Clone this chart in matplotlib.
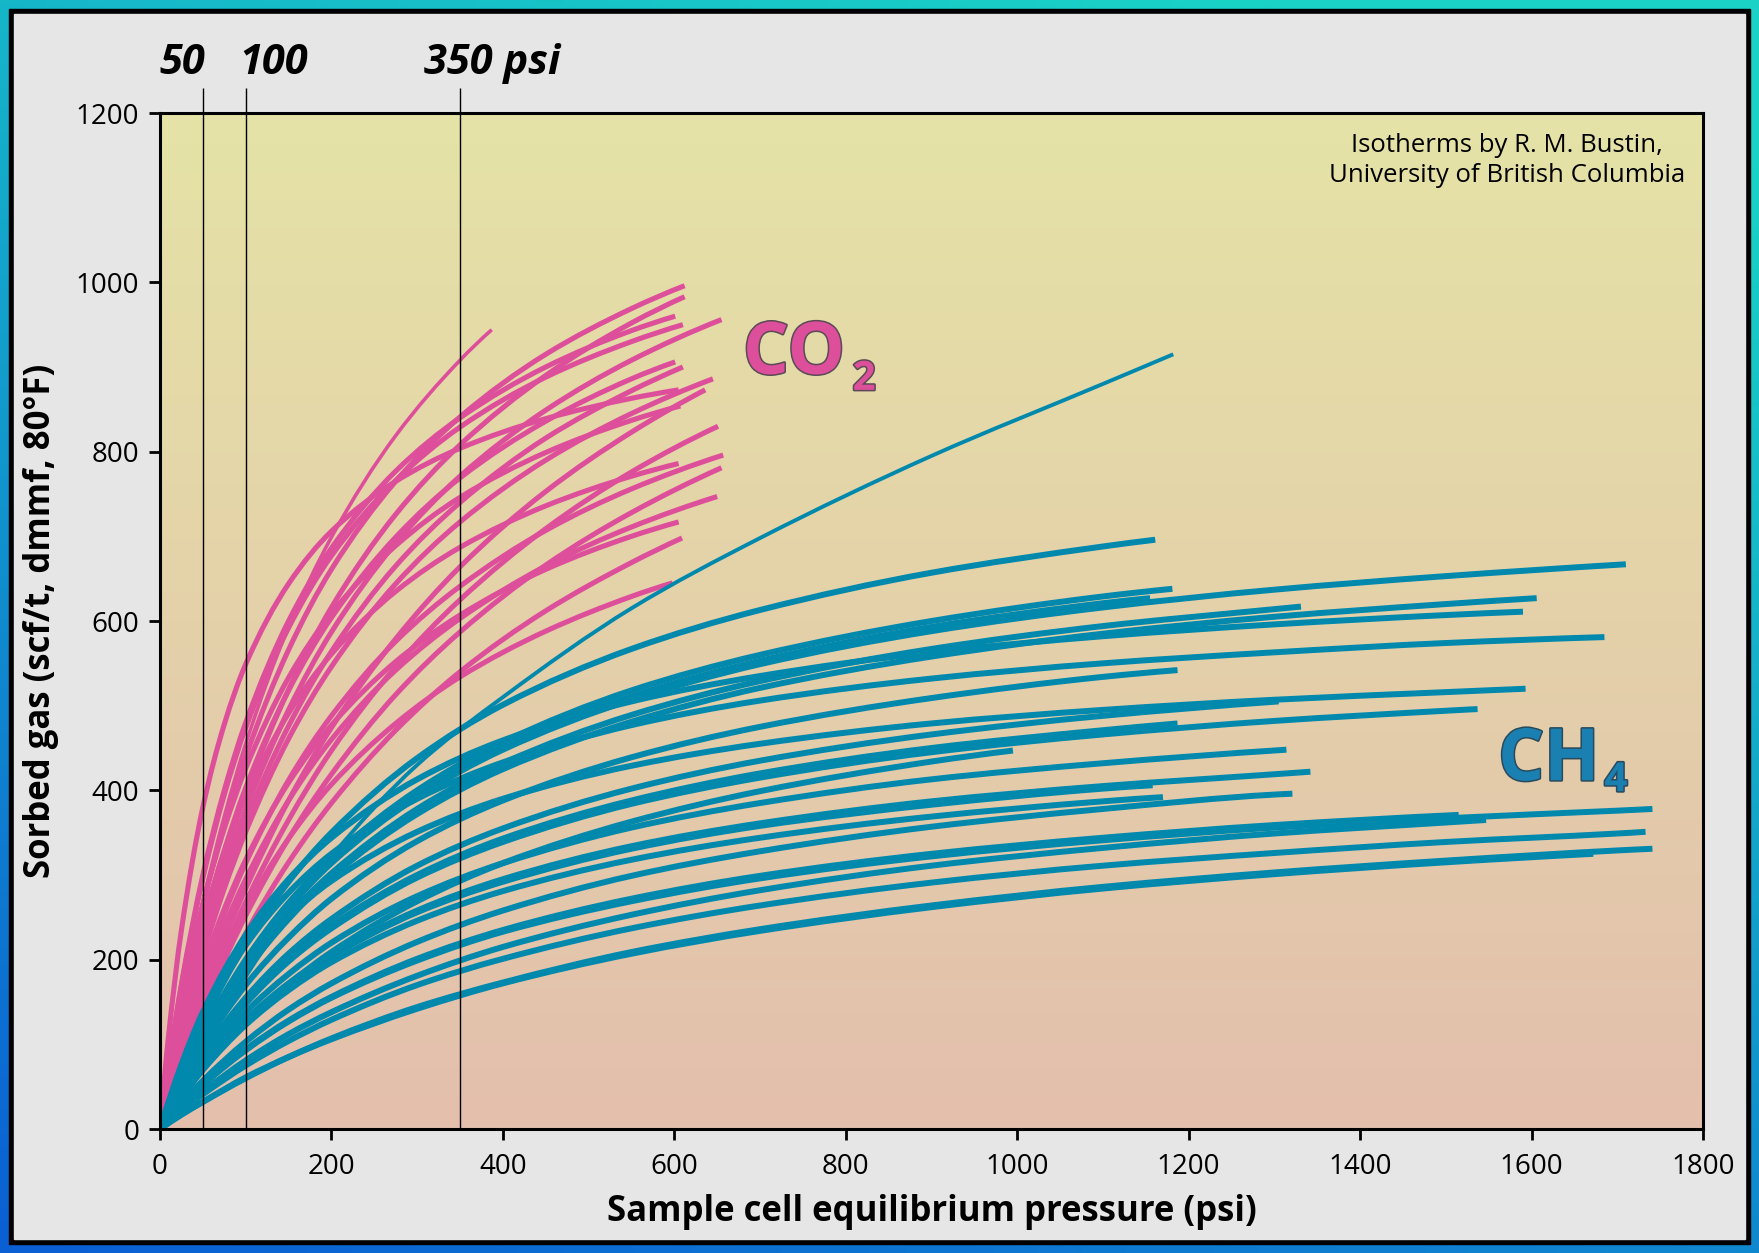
import matplotlib
matplotlib.use("Agg")
import matplotlib.pyplot as plt
import matplotlib.patheffects as pe
from matplotlib.patches import Rectangle, PathPatch
from matplotlib.path import Path
from matplotlib import font_manager
import numpy as np

# pressure grids (psi) shared by the isotherms, each curve stops at its own end pressure
co2_p = [0, 10, 25, 50, 75, 100, 150, 200, 275, 350, 450, 550]
ch4_p = [0, 25, 50, 100, 150, 200, 300, 400, 550, 700, 900, 1100, 1300, 1500, 1700]

# CO2 isotherms (scf/t)
co2_end = [612, 612, 601, 655, 610, 601, 610, 645, 636, 605, 607, 651, 657, 605, 655, 650, 605, 609, 598]
co2_v = [
    [0, 63, 147, 264, 360, 440, 566, 661, 765, 841, 915, 969, 996],
    [0, 53, 126, 231, 320, 396, 519, 616, 726, 808, 890, 952, 983],
    [0, 75, 171, 300, 400, 480, 600, 686, 777, 840, 900, 943, 960],
    [0, 51, 120, 220, 305, 377, 495, 587, 692, 771, 849, 908, 956],
    [0, 74, 169, 296, 395, 474, 592, 677, 766, 829, 888, 930, 950],
    [0, 58, 134, 242, 329, 403, 518, 604, 699, 769, 836, 886, 906],
    [0, 49, 115, 212, 293, 363, 476, 564, 665, 740, 816, 872, 900],
    [0, 47, 112, 205, 284, 351, 461, 546, 644, 717, 790, 845, 886],
    [0, 35, 84, 158, 225, 284, 388, 474, 579, 664, 753, 823, 873],
    [0, 110, 235, 380, 478, 549, 644, 706, 765, 804, 839, 863, 873],
    [0, 67, 152, 266, 355, 426, 533, 609, 689, 746, 799, 837, 854],
    [0, 33, 79, 149, 212, 268, 365, 447, 546, 625, 709, 776, 830],
    [0, 42, 100, 183, 254, 314, 412, 488, 576, 641, 707, 756, 796],
    [0, 61, 140, 245, 327, 392, 491, 561, 635, 687, 736, 771, 786],
    [0, 31, 74, 140, 199, 252, 343, 419, 513, 587, 666, 728, 781],
    [0, 40, 94, 172, 239, 295, 388, 460, 542, 603, 665, 711, 747],
    [0, 45, 106, 191, 260, 318, 409, 477, 552, 607, 661, 700, 717],
    [0, 28, 68, 128, 183, 231, 315, 385, 471, 540, 612, 669, 698],
    [0, 35, 83, 153, 211, 261, 343, 407, 479, 534, 588, 629, 645],
]
co2_thin_end = 387
co2_thin_v = [0, 62, 147, 268, 369, 455, 593, 699, 819, 908, 944]

# CH4 isotherms (scf/t)
ch4_end = [1161, 1181, 1155, 1710, 1606, 1590, 1331, 1685, 1187, 1187, 1593, 1305, 1537,
           995, 1314, 1342, 1158, 1170, 1321, 1741, 1515, 1547, 1733, 1741, 1672]
ch4_v = [
    [0, 67, 125, 219, 292, 350, 438, 501, 567, 613, 657, 688, 696],
    [0, 62, 114, 200, 267, 320, 400, 457, 518, 560, 600, 629, 638],
    [0, 61, 113, 198, 263, 316, 395, 451, 511, 553, 593, 621, 627],
    [0, 60, 112, 196, 261, 314, 392, 448, 507, 549, 588, 616, 637, 653, 666, 667],
    [0, 57, 106, 186, 248, 298, 372, 425, 481, 521, 558, 585, 605, 620, 627],
    [0, 76, 138, 229, 295, 344, 413, 459, 505, 535, 563, 582, 596, 607, 611],
    [0, 58, 108, 189, 252, 302, 378, 432, 489, 529, 567, 594, 614, 617],
    [0, 72, 130, 217, 279, 325, 390, 433, 477, 506, 532, 550, 563, 574, 581],
    [0, 52, 97, 170, 226, 272, 340, 388, 439, 475, 509, 534, 542],
    [0, 46, 86, 150, 200, 240, 300, 343, 388, 420, 450, 471, 479],
    [0, 65, 117, 195, 251, 293, 351, 390, 429, 455, 479, 495, 507, 516, 520],
    [0, 48, 89, 155, 207, 248, 311, 355, 402, 435, 466, 488, 504, 505],
    [0, 46, 85, 148, 198, 237, 297, 339, 384, 415, 445, 466, 482, 494, 496],
    [0, 37, 70, 125, 171, 209, 269, 314, 363, 399, 434, 447],
    [0, 42, 79, 138, 183, 220, 275, 314, 356, 385, 413, 432, 447, 448],
    [0, 40, 74, 129, 172, 206, 258, 295, 334, 361, 387, 405, 419, 422],
    [0, 39, 73, 128, 170, 204, 256, 292, 331, 358, 383, 402, 406],
    [0, 38, 70, 123, 164, 197, 246, 281, 318, 344, 369, 387, 392],
    [0, 30, 57, 103, 141, 172, 221, 258, 299, 328, 357, 378, 395, 396],
    [0, 27, 52, 93, 127, 155, 199, 233, 269, 296, 322, 341, 356, 367, 376, 378],
    [0, 28, 52, 94, 128, 156, 201, 235, 272, 299, 325, 344, 359, 370, 371],
    [0, 23, 44, 81, 112, 138, 181, 215, 253, 282, 311, 332, 349, 362, 365],
    [0, 22, 41, 75, 104, 129, 170, 201, 237, 264, 291, 311, 326, 339, 349, 351],
    [0, 17, 32, 61, 85, 107, 144, 173, 209, 236, 264, 286, 303, 317, 329, 331],
    [0, 17, 32, 60, 85, 106, 142, 172, 207, 234, 262, 284, 301, 315, 325],
]
ch4_thin_end = 1182
ch4_thin_v = [0, 48, 95, 180, 255, 322, 430, 510, 615, 698, 795, 880, 915]

marker_p = [50, 100, 350]
marker_lbl = ["50", "100", "350 psi"]
marker_lbl_x = [26, 133, 308]

x_ticks = list(range(0, 1801, 200))
y_ticks = list(range(0, 1201, 200))

CO2_COL = "#dd4f9b"
CH4_COL = "#0088ad"

names = {f.name for f in font_manager.fontManager.ttflist}
REG = "Open Sans" if "Open Sans" in names else "DejaVu Sans"


def curve_pts(grid, vals, pend):
    pts = list(zip(grid[:len(vals) - 1], vals[:-1]))
    # a grid point sitting right next to the end only adds rounding noise
    pts = [q for q in pts if pend - q[0] >= 20]
    return [q[0] for q in pts] + [pend], [q[1] for q in pts] + [vals[-1]]


def smooth_path(x, y):
    # cubic Bezier pieces through the read points (drawing only)
    x = np.asarray(x, float)
    y = np.asarray(y, float)
    h = np.diff(x)
    d = np.diff(y) / h
    n = len(x)
    m = np.empty(n)
    for i in range(1, n - 1):
        if d[i - 1] * d[i] <= 0:
            m[i] = 0.0
        else:
            w1 = 2 * h[i] + h[i - 1]
            w2 = h[i] + 2 * h[i - 1]
            m[i] = (w1 + w2) / (w1 / d[i - 1] + w2 / d[i])
    m[0] = max(d[0], 2 * d[0] - m[1]) if n > 2 else d[0]
    m[-1] = max(0.0, 2 * d[-1] - m[-2]) if n > 2 else d[-1]
    verts = [(x[0], y[0])]
    codes = [Path.MOVETO]
    for i in range(n - 1):
        verts += [(x[i] + h[i] / 3, y[i] + m[i] * h[i] / 3),
                  (x[i + 1] - h[i] / 3, y[i + 1] - m[i + 1] * h[i] / 3),
                  (x[i + 1], y[i + 1])]
        codes += [Path.CURVE4] * 3
    return Path(verts, codes)


def draw_curve(ax, grid, vals, pend, color, lw, z):
    p, v = curve_pts(grid, vals, pend)
    ax.add_patch(PathPatch(smooth_path(p, v), facecolor="none", edgecolor=color, lw=lw,
                           capstyle="butt", joinstyle="round", zorder=z))


W, H = 1759, 1253
fig = plt.figure(figsize=(W / 100, H / 100), dpi=100)

# frame: gradient border, black line, grey inside
bg = fig.add_axes([0, 0, 1, 1], zorder=-10)
yy, xx = np.mgrid[0:1:200j, 0:1:200j]
t = np.clip(yy * 0.75 + (1 - xx) * 0.35 - 0.1, 0, 1)
c1 = np.array([0x1a, 0xd3, 0xc6]) / 255
c2 = np.array([0x0a, 0x5f, 0xd4]) / 255
grad = c1[None, None, :] * (1 - t[..., None]) + c2[None, None, :] * t[..., None]
bg.imshow(grad, extent=[0, W, 0, H], aspect="auto", origin="upper")
bg.add_patch(Rectangle((9, 9), W - 18, H - 18, color="black"))
bg.add_patch(Rectangle((14, 14), W - 28, H - 28, color="#e6e6e6"))
bg.set_xlim(0, W)
bg.set_ylim(0, H)
bg.axis("off")

ax = fig.add_axes([160 / W, 124 / H, 1543 / W, 1016 / H])
ax.set_xlim(0, 1800)
ax.set_ylim(0, 1200)

# plot background gradient
top = np.array([0xe5, 0xe3, 0xa6]) / 255
bot = np.array([0xe3, 0xbf, 0xad]) / 255
s = np.linspace(0, 1, 256)[:, None]
bgrad = (top[None, :] * (1 - s) + bot[None, :] * s)[:, None, :]
ax.imshow(bgrad, extent=[0, 1800, 0, 1200], aspect="auto", origin="upper", zorder=0)

for vals, pend in zip(co2_v, co2_end):
    draw_curve(ax, co2_p, vals, pend, CO2_COL, 3.7, 3)
draw_curve(ax, co2_p, co2_thin_v, co2_thin_end, CO2_COL, 2.6, 3)

for vals, pend in zip(ch4_v, ch4_end):
    draw_curve(ax, ch4_p, vals, pend, CH4_COL, 4.3, 4)
draw_curve(ax, ch4_p, ch4_thin_v, ch4_thin_end, CH4_COL, 2.8, 4)

# pressure markers
ax.vlines(marker_p, 0, 1229, color="black", lw=1.0, clip_on=False, zorder=6)
for lbl, lx in zip(marker_lbl, marker_lbl_x):
    ax.text(lx, 1246, lbl, ha="left" if "psi" in lbl else "center", va="baseline",
            fontsize=30, fontweight="bold", fontstyle="italic", family=[REG, "DejaVu Sans"],
            clip_on=False)

ax.set_xticks(x_ticks)
ax.set_yticks(y_ticks)
ax.tick_params(direction="out", length=8, width=2, labelsize=20, pad=7)
ax.tick_params(axis="x", pad=9)
for lab in ax.get_xticklabels() + ax.get_yticklabels():
    lab.set_family(REG)
for sp in ax.spines.values():
    sp.set_linewidth(2.2)
    sp.set_zorder(7)

ax.set_xlabel("Sample cell equilibrium pressure (psi)", fontsize=25, fontweight="bold",
              family=REG, labelpad=10)
ax.set_ylabel("Sorbed gas (scf/t, dmmf, 80\u00b0F)", fontsize=25, fontweight="bold",
              family=REG, labelpad=12)

ax.text(1571, 1144, "Isotherms by R. M. Bustin,\nUniversity of British Columbia", ha="center",
        va="center", fontsize=18.5, family=REG, linespacing=1.25, zorder=8)

stroke_co2 = [pe.withStroke(linewidth=2.2, foreground="#5a4a55")]
stroke_ch4 = [pe.withStroke(linewidth=2.2, foreground="#284a5c")]
ax.text(680, 892, "CO", fontsize=52, fontweight="bold", color=CO2_COL, family=REG,
        va="baseline", ha="left", path_effects=stroke_co2, zorder=8)
ax.text(808, 873, "2", fontsize=29, fontweight="bold", color=CO2_COL, family=REG,
        va="baseline", ha="left", path_effects=stroke_co2, zorder=8)
ax.text(1561, 412, "CH", fontsize=52, fontweight="bold", color="#1a80b2", family=REG,
        va="baseline", ha="left", path_effects=stroke_ch4, zorder=8)
ax.text(1685, 399, "4", fontsize=29, fontweight="bold", color="#1a80b2", family=REG,
        va="baseline", ha="left", path_effects=stroke_ch4, zorder=8)

fig.savefig("out.png", dpi=100, facecolor=fig.get_facecolor())
